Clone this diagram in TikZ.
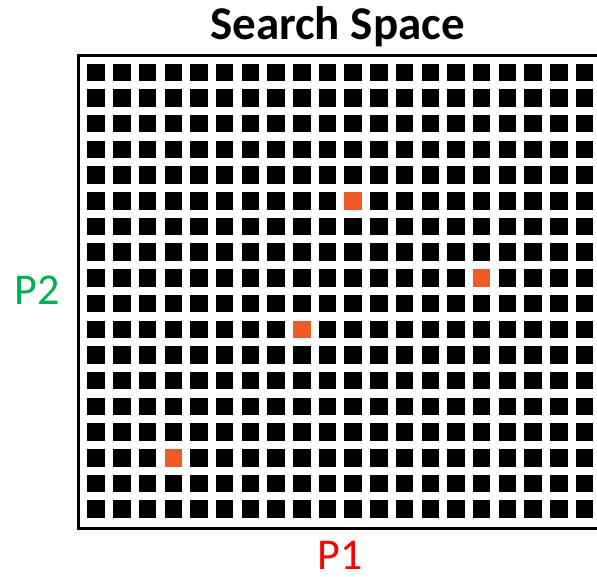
\documentclass[tikz,border=0pt]{standalone}
\usepackage{fontspec}
\setmainfont{Carlito}
\usetikzlibrary{positioning}
\definecolor{hitred}{HTML}{F05A28}
\definecolor{axisgreen}{HTML}{00B050}
\tikzset{
  cell/.style      = {fill=black, draw=none, minimum size=17.5pt, inner sep=0pt},
  hit/.style       = {cell, fill=hitred},
  axislabel/.style = {anchor=base, inner sep=0pt, font=\fontsize{44}{44}\selectfont},
  frame/.style     = {draw=black, line width=3pt}
}

\begin{document}
\begin{tikzpicture}[x=1pt, y=1pt]
\useasboundingbox (0,0) rectangle (597,576);

\node[anchor=base, font=\bfseries\fontsize{47}{47}\selectfont] at (337.5,536) (title) {Search Space};
\draw[frame] (620,520.5) -- (78.5,520.5) -- (78.5,47.7) -- (620,47.7);

% search grid, the sampled points in orange
\foreach \i in {0,...,19}
  \foreach \j in {0,...,17}{
    \def\kind{cell}
    \foreach \a/\b in {10/5, 15/8, 8/10, 3/15}{%
      \ifnum\i=\a \ifnum\j=\b \gdef\kind{hit}\fi\fi}
    \node[\kind] at ({96.2+25.7*\i},{503.7-25.7*\j}) (c-\i-\j) {};
  }

\node[axislabel, text=axisgreen] at (37,271) (ptwo) {P2};
\node[axislabel, text=red]       at (340,7)  (pone) {P1};
\end{tikzpicture}
\end{document}
